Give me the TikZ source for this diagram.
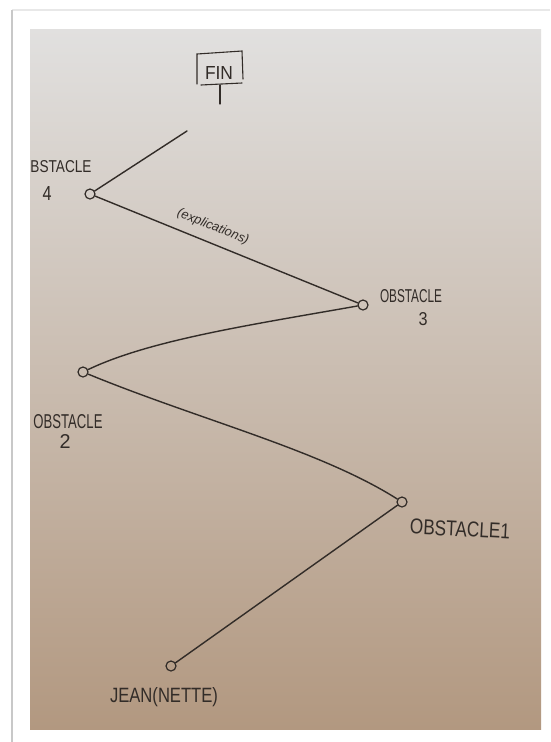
\documentclass[tikz,border=0pt]{standalone}
\usepackage{fontspec}
\usepackage{graphicx}
\newfontfamily\hand{Liberation Sans}
\definecolor{inkc}{RGB}{50,44,40}
\definecolor{paperTop}{RGB}{225,224,223}
\definecolor{paperMid}{RGB}{216,207,198}
\definecolor{paperBot}{RGB}{178,152,128}
\definecolor{frameC}{RGB}{200,200,200}
\definecolor{frameT}{RGB}{232,232,232}
\newcommand\hw[3]{\resizebox{#1pt}{#2pt}{\hand #3}}
\begin{document}
\begin{tikzpicture}[x=1pt,y=-1pt,
  ink/.style={draw=inkc, line width=1.4pt, line cap=round},
  knot/.style={circle, draw=inkc, line width=1.2pt, minimum size=10pt, inner sep=0pt},
  lbl/.style={text=inkc, inner sep=0pt, anchor=center}]
\useasboundingbox (0,0) rectangle (550,742);
\fill[white] (0,0) rectangle (550,742);
\draw[frameT, line width=1.5pt] (12,10) -- (550,10);
\draw[frameC, line width=2pt] (12,742) -- (12,10);
\shade[top color=paperTop, middle color=paperMid, bottom color=paperBot] (30,29) rectangle (541,729);

% FIN box
\node[lbl] (fintext) at (219,73) {\hw{28}{13}{FIN}};
\coordinate (bx1) at (197,54);
\coordinate (bx2) at (242,51);
\coordinate (bx3) at (243,79);
\draw[ink, line width=1.1pt] (197,84) -- (bx1) -- (bx2) -- (bx3);
\draw[ink, line width=1.1pt] (201,85) -- (242,83);
\coordinate (stemtop) at (220,85);
\coordinate (stembot) at (220,104);
\draw[ink, line width=1.1pt] (stemtop) -- (stembot);

% obstacles
\node[knot] (o4) at (90,194) {};
\node[knot] (o3) at (363,305) {};
\node[knot] (o2) at (83,372) {};
\node[knot] (o1) at (402,502) {};
\node[knot] (jean) at (171,666) {};
\coordinate (tp) at (187,131);

\draw[ink] (o4) -- (tp);
\draw[ink] (o4) -- (o3);
\draw[ink] (o3) .. controls (250,325) and (150,340) .. (o2);
\draw[ink] (o2) .. controls (200,420) and (320,450) .. (o1);
\draw[ink] (o1) -- (jean);

% labels
\node[lbl] (l4a) at (61,167) {\hw{61}{12}{BSTACLE}};
\node[lbl] (l4b) at (47,193) {\hw{9}{14}{4}};
\node[lbl, rotate=-22] (lex) at (213,227) {\resizebox{76pt}{!}{\hand\itshape (explications)}};
\node[lbl] (l3a) at (411,296) {\hw{62}{13}{OBSTACLE}};
\node[lbl] (l3b) at (423,319) {\hw{9}{13}{3}};
\node[lbl] (l2a) at (68,422) {\hw{69}{14}{OBSTACLE}};
\node[lbl] (l2b) at (65,441) {\hw{11}{14}{2}};
\node[lbl, rotate=-3] (l1) at (460,529) {\hw{100}{15}{OBSTACLE1}};
\node[lbl] (lj) at (164,697) {\hw{108}{15}{JEAN(NETTE)}};
\end{tikzpicture}
\end{document}
